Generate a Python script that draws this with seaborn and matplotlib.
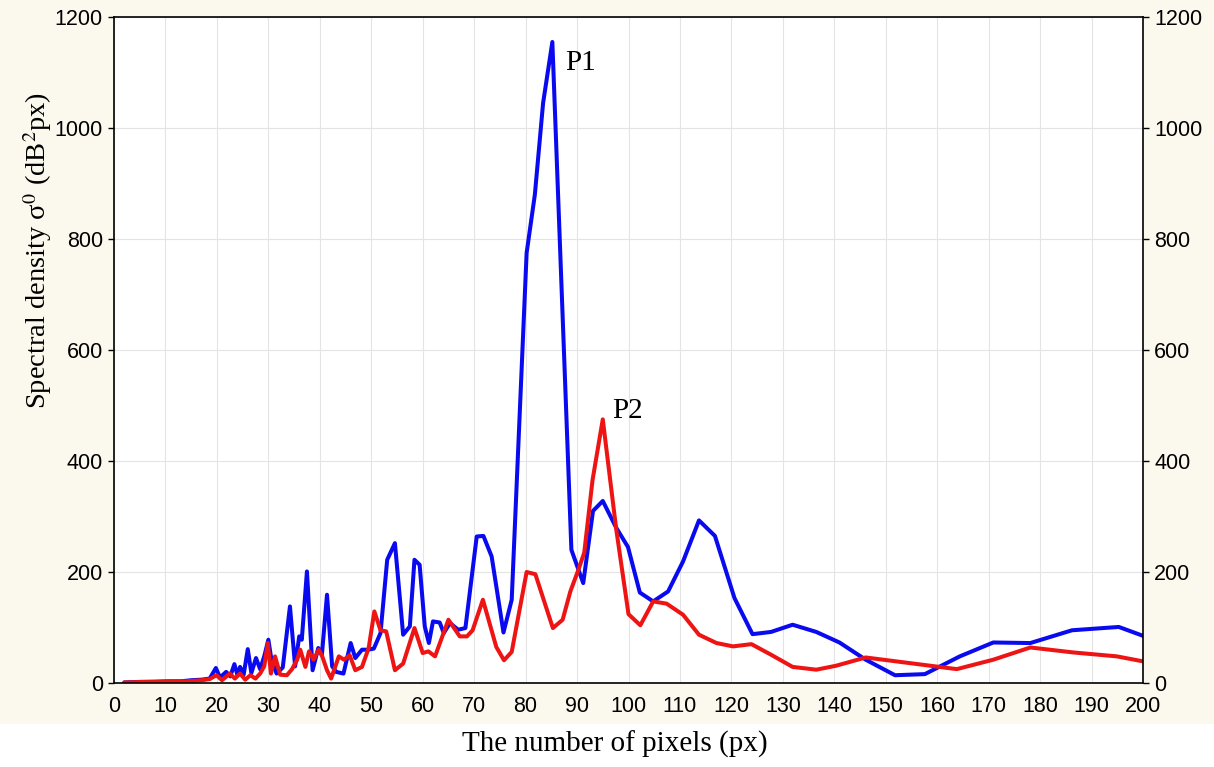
import numpy as np
import pandas as pd
import matplotlib
matplotlib.use("Agg")
import matplotlib.pyplot as plt
from matplotlib.patches import Rectangle
import seaborn as sns

# ---- data ----
blue_x = [2, 5, 8, 11, 13, 15, 17, 18.6, 19.8, 20.6, 21.8, 22.6, 23.4, 24.0, 24.5, 25.2,
          26.0, 26.7, 27.6, 28.4, 29.2, 30.0, 30.6, 31.6, 32.8, 34.2, 35.2, 36.0, 36.5,
          37.5, 38.6, 39.7, 40.4, 41.4, 42.4, 43.2, 44.6, 46.0, 46.9, 48.2, 49.4, 50.5,
          51.8, 53.1, 54.6, 56.2, 57.5, 58.4, 59.4, 60.4, 61.2, 62.0, 63.3, 64.1, 65.3,
          66.9, 68.3, 70.5, 71.8, 73.4, 75.7, 77.3, 80.2, 81.8, 83.4, 85.2, 88.9, 91.2,
          93.1, 95.0, 97.6, 99.9, 102.2, 104.8, 107.7, 110.6, 113.7, 116.8, 120.6, 124.1,
          127.7, 131.9, 136.5, 141.0, 146.1, 151.8, 157.6, 164.4, 170.9, 178.1, 186.2,
          195.3, 200]
blue_y = [1, 2, 2, 3, 3, 5, 6, 8, 27, 10, 20, 12, 34, 14, 29, 15,
          61, 18, 45, 25, 48, 78, 42, 17, 28, 138, 30, 84, 78,
          201, 23, 63, 50, 159, 30, 20, 17, 72, 45, 60, 60, 62,
          90, 222, 252, 87, 102, 222, 213, 102, 72, 111, 109, 90, 108,
          96, 99, 264, 265, 228, 91, 150, 775, 880, 1045, 1155, 240, 180,
          310, 328, 280, 245, 163, 147, 165, 219, 293, 265, 153, 88,
          92, 105, 92, 73, 42, 14, 16, 48, 73, 72, 95,
          101, 85]

red_x = [2, 6, 10, 14, 17, 18.6, 19.9, 21.0, 22.5, 23.5, 24.5, 25.5, 26.5, 27.5, 28.4,
         29.2, 29.9, 30.5, 31.3, 32.3, 33.6, 34.6, 35.6, 36.2, 37.2, 37.9, 38.8, 39.8,
         40.4, 41.4, 42.2, 43.7, 44.7, 45.8, 46.9, 48.2, 49.5, 50.6, 51.8, 52.9, 54.6,
         56.2, 58.4, 60.0, 61.1, 62.4, 65.0, 67.2, 68.6, 69.7, 71.7, 74.3, 75.8, 77.3,
         80.2, 81.9, 85.3, 87.2, 88.7, 90.3, 91.4, 93.0, 95.0, 97.6, 100.0, 102.3, 104.8,
         107.4, 110.6, 113.7, 117.1, 120.3, 123.9, 127.7, 131.9, 136.5, 140.3, 146.1,
         163.8, 170.9, 178.1, 186.5, 194.9, 200]
red_y = [1, 2, 3, 3, 5, 7, 14, 5, 17, 8, 17, 6, 14, 8, 17,
         30, 72, 17, 48, 15, 14, 25, 42, 60, 29, 57, 42, 60,
         50, 23, 8, 48, 42, 50, 23, 29, 63, 129, 95, 93, 23,
         35, 99, 54, 57, 48, 114, 84, 84, 95, 150, 65, 41, 56,
         200, 196, 99, 114, 165, 205, 235, 365, 475, 278, 124, 104, 147,
         143, 123, 87, 72, 66, 70, 51, 29, 24, 31, 46,
         25, 42, 64, 55, 48, 39]

x_ticks = list(range(0, 201, 10))
y_ticks = list(range(0, 1201, 200))

blue_df = pd.DataFrame({"px": blue_x, "density": blue_y})
red_df = pd.DataFrame({"px": red_x, "density": red_y})

sns.set_theme(style="white")
plt.rcParams["mathtext.fontset"] = "stix"
plt.rcParams["font.family"] = ["Liberation Sans", "DejaVu Sans"]

fig = plt.figure(figsize=(12.14, 7.67), dpi=100, facecolor="white")
fig.patches.append(Rectangle((0, 1 - 724 / 767), 1, 724 / 767, transform=fig.transFigure,
                             facecolor="#FBF8EE", edgecolor="none", zorder=-10))
ax = fig.add_axes([114 / 1214, 1 - 683 / 767, (1143 - 114) / 1214, (683 - 17) / 767])
ax.set_facecolor("white")

sns.lineplot(data=blue_df, x="px", y="density", ax=ax, color="#0A0AF0", lw=2.9,
             sort=False, estimator=None)
sns.lineplot(data=red_df, x="px", y="density", ax=ax, color="#EE1414", lw=2.9,
             sort=False, estimator=None)

ax.set_xlim(0, 200)
ax.set_ylim(0, 1200)
ax.set_xticks(x_ticks)
ax.set_yticks(y_ticks)
ax.grid(True, color="#E4E4E4", lw=0.8)
ax.set_axisbelow(True)
for s in ax.spines.values():
    s.set_color("black")
    s.set_linewidth(1.2)

ax.tick_params(axis="x", direction="in", length=4, width=1, labelsize=15.5, pad=9, colors="black")
ax.tick_params(axis="y", direction="out", length=4, width=1, labelsize=15.5, pad=4,
               left=True, right=True, labelleft=True, labelright=True, colors="black")

serif = ["Liberation Serif", "DejaVu Serif"]
ax.set_xlabel("The number of pixels (px)", fontsize=21, family=serif, color="black")
ax.set_ylabel(r"Spectral density σ$^0$ (dB$^2$px)", fontsize=20.5, family=serif, color="black")
ax.xaxis.set_label_coords(0.487, -0.072)
ax.yaxis.set_label_coords(-0.058, 0.649)

ax.text(87.6, 1118, "P1", fontsize=21, family=serif, ha="left", va="center", color="black")
ax.text(96.8, 490, "P2", fontsize=21, family=serif, ha="left", va="center", color="black")

fig.savefig("out.png", dpi=100, facecolor=fig.get_facecolor())
